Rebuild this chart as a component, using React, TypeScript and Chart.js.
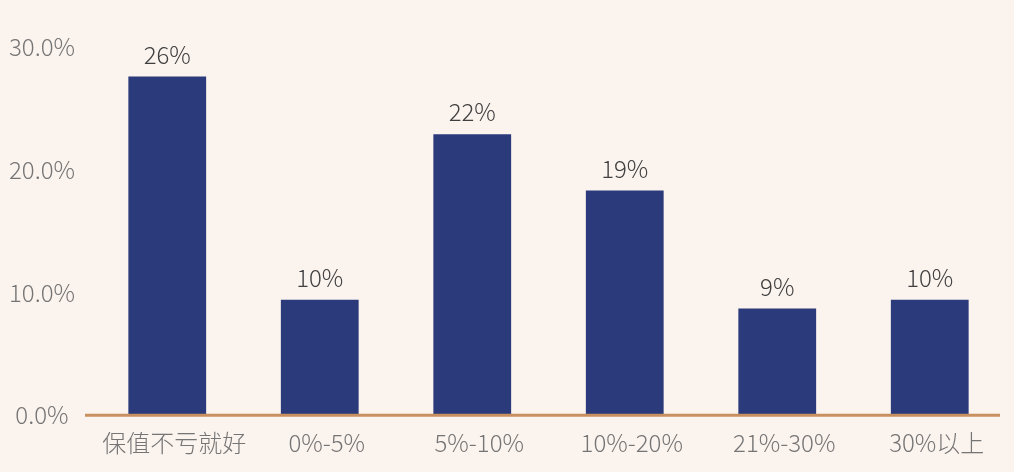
import React, { useEffect, useRef } from "react";
import { Chart, registerables } from "chart.js";

Chart.register(...registerables);

const categories = ["保值不亏就好", "0%-5%", "5%-10%", "10%-20%", "21%-30%", "30%以上"];
const values = [27.6, 9.4, 22.9, 18.3, 8.7, 9.4];
const valueLabels = ["26%", "10%", "22%", "19%", "9%", "10%"];
const yTicks = [0, 10, 20, 30];

const FONT = "'Noto Sans CJK SC', 'Noto Sans', sans-serif";
const BG = "#fbf3ee";
const BAR = "#2b3a7b";
const AXIS = "#c8905f";

const valueLabelPlugin = {
  id: "valueLabels",
  afterDatasetsDraw(chart: any) {
    const ctx = chart.ctx;
    const meta = chart.getDatasetMeta(0);
    ctx.save();
    ctx.font = `300 24px ${FONT}`;
    ctx.fillStyle = "#404040";
    ctx.textAlign = "center";
    ctx.textBaseline = "bottom";
    meta.data.forEach((bar: any, i: number) => {
      ctx.fillText(valueLabels[i], bar.x, bar.y - 10);
    });
    ctx.restore();
  },
};

const baseLinePlugin = {
  id: "baseLine",
  afterDatasetsDraw(chart: any) {
    const { ctx, chartArea } = chart;
    const y = chart.scales.y.getPixelForValue(0);
    ctx.save();
    ctx.strokeStyle = AXIS;
    ctx.lineWidth = 3;
    ctx.beginPath();
    ctx.moveTo(chartArea.left - 6, y);
    ctx.lineTo(chartArea.right - 6, y);
    ctx.stroke();
    ctx.restore();
  },
};

export default function App() {
  const ref = useRef<HTMLCanvasElement>(null);
  useEffect(() => {
    document.body.style.margin = "0";
    document.body.style.background = BG;
    const chart = new Chart(ref.current!, {
      type: "bar",
      data: {
        labels: categories,
        datasets: [
          {
            data: values,
            backgroundColor: BAR,
            barPercentage: 0.51,
            categoryPercentage: 1,
          },
        ],
      },
      options: {
        animation: false,
        responsive: false,
        maintainAspectRatio: false,
        layout: { padding: { top: 47, right: 8, left: 0, bottom: 2 } },
        plugins: { legend: { display: false }, tooltip: { enabled: false } },
        scales: {
          x: {
            grid: { display: false, drawTicks: false },
            border: { display: false },
            ticks: {
              color: "#757575",
              font: { family: FONT, size: 24, weight: "300" as any },
              padding: 13,
              labelOffset: 7,
            },
          },
          y: {
            min: 0,
            max: 30,
            afterFit(scale: any) {
              scale.width = 91;
            },
            afterBuildTicks(scale: any) {
              scale.ticks = yTicks.map((v) => ({ value: v }));
            },
            grid: { display: false, drawTicks: false },
            border: { display: false },
            ticks: {
              color: "#757575",
              font: { family: FONT, size: 24, weight: "300" as any },
              padding: 16,
              crossAlign: "center",
              callback: (v: any) => Number(v).toFixed(1) + "%",
            },
          },
        },
      },
      plugins: [valueLabelPlugin, baseLinePlugin],
    });
    return () => chart.destroy();
  }, []);
  return (
    <div style={{ width: 1014, height: 472, background: BG }}>
      <canvas ref={ref} width={1014} height={472} />
    </div>
  );
}
